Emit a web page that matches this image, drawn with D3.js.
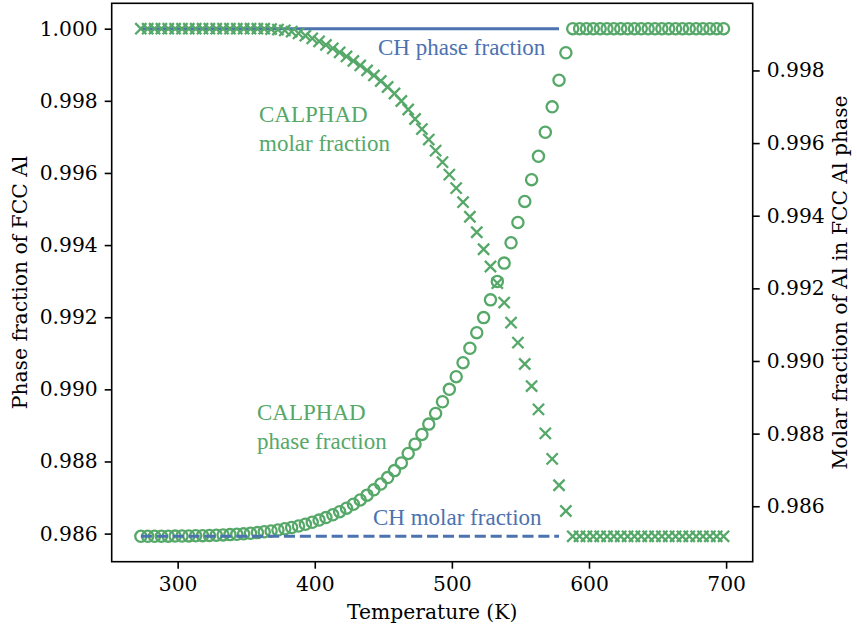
<!DOCTYPE html>
<html>
<head>
<meta charset="utf-8">
<script src="https://cdn.jsdelivr.net/npm/d3@7"></script>
<style>
  html, body { margin: 0; padding: 0; background: #ffffff; }
  svg { display: block; }
</style>
</head>
<body>
<svg id="chart" width="857" height="630"></svg>
<script>
// Temperatures (K) of the CALPHAD equilibrium steps
const temperature = [
  273.15, 278.15, 283.15, 288.15, 293.15, 298.15, 303.15, 308.15, 313.15, 318.15,
  323.15, 328.15, 333.15, 338.15, 343.15, 348.15, 353.15, 358.15, 363.15, 368.15,
  373.15, 378.15, 383.15, 388.15, 393.15, 398.15, 403.15, 408.15, 413.15, 418.15,
  423.15, 428.15, 433.15, 438.15, 443.15, 448.15, 453.15, 458.15, 463.15, 468.15,
  473.15, 478.15, 483.15, 488.15, 493.15, 498.15, 503.15, 508.15, 513.15, 518.15,
  523.15, 528.15, 533.15, 538.15, 543.15, 548.15, 553.15, 558.15, 563.15, 568.15,
  573.15, 578.15, 583.15, 588.15, 593.15, 598.15, 603.15, 608.15, 613.15, 618.15,
  623.15, 628.15, 633.15, 638.15, 643.15, 648.15, 653.15, 658.15, 663.15, 668.15,
  673.15, 678.15, 683.15, 688.15, 693.15, 698.15
];

// CALPHAD phase fraction of FCC Al (left axis)
const calphadPhaseFraction = [
  0.985925, 0.985926, 0.985927, 0.985928, 0.985930, 0.985931, 0.985933, 0.985936, 0.985939, 0.985944,
  0.985950, 0.985956, 0.985964, 0.985972, 0.985981, 0.985994, 0.986011, 0.986028, 0.986050, 0.986075,
  0.986100, 0.986133, 0.986169, 0.986211, 0.986258, 0.986314, 0.986375, 0.986444, 0.986522, 0.986608,
  0.986706, 0.986814, 0.986933, 0.987067, 0.987214, 0.987375, 0.987553, 0.987747, 0.987961, 0.988222,
  0.988481, 0.988750, 0.989036, 0.989333, 0.989656, 0.990000, 0.990350, 0.990739, 0.991139, 0.991572,
  0.991989, 0.992481, 0.992989, 0.993500, 0.994064, 0.994628, 0.995211, 0.995814, 0.996461, 0.997128,
  0.997833, 0.998572, 0.999333, 1.000000, 1.000000, 1.000000, 1.000000, 1.000000, 1.000000, 1.000000,
  1.000000, 1.000000, 1.000000, 1.000000, 1.000000, 1.000000, 1.000000, 1.000000, 1.000000, 1.000000,
  1.000000, 1.000000, 1.000000, 1.000000, 1.000000, 1.000000
];

// CALPHAD molar fraction of Al in the FCC Al phase (right axis)
const calphadMolarFraction = [
  0.999150, 0.999150, 0.999150, 0.999150, 0.999150, 0.999150, 0.999150, 0.999150, 0.999150, 0.999150,
  0.999150, 0.999150, 0.999150, 0.999150, 0.999150, 0.999150, 0.999150, 0.999150, 0.999150, 0.999139,
  0.999126, 0.999103, 0.999068, 0.999021, 0.998957, 0.998883, 0.998800, 0.998703, 0.998607, 0.998497,
  0.998386, 0.998262, 0.998138, 0.998000, 0.997862, 0.997710, 0.997545, 0.997366, 0.997159, 0.996924,
  0.996662, 0.996386, 0.996097, 0.995793, 0.995476, 0.995131, 0.994759, 0.994372, 0.993972, 0.993545,
  0.993076, 0.992601, 0.992143, 0.991608, 0.991057, 0.990505, 0.989917, 0.989310, 0.988668, 0.988006,
  0.987305, 0.986579, 0.985870, 0.985172, 0.985172, 0.985172, 0.985172, 0.985172, 0.985172, 0.985172,
  0.985172, 0.985172, 0.985172, 0.985172, 0.985172, 0.985172, 0.985172, 0.985172, 0.985172, 0.985172,
  0.985172, 0.985172, 0.985172, 0.985172, 0.985172, 0.985172
];

// Cahn-Hilliard (CH) simulation results
const chTemperature = [273.15, 578.15];
const chPhaseFraction = [1.0, 1.0];
const chMolarFraction = [0.985172, 0.985172];

// Tick labels
const xTicks = [300, 400, 500, 600, 700];
const leftTicks = [0.986, 0.988, 0.990, 0.992, 0.994, 0.996, 0.998, 1.000];
const rightTicks = [0.986, 0.988, 0.990, 0.992, 0.994, 0.996, 0.998];

const BLUE = "#4c72b0";
const GREEN = "#55a868";
const AXIS_FONT = "'DejaVu Serif', serif";
const NOTE_FONT = "'Liberation Serif', 'Times New Roman', serif";

const box = { left: 111.7, right: 752.7, top: 3.3, bottom: 561.7 };

// data extent widened by 5% on both sides
function padded(values) {
  const [lo, hi] = d3.extent(values);
  const pad = (hi - lo) * 0.05;
  return [lo - pad, hi + pad];
}

const x = d3.scaleLinear().domain(padded(temperature)).range([box.left, box.right]);
const yLeft = d3.scaleLinear()
  .domain(padded(calphadPhaseFraction.concat(chPhaseFraction)))
  .range([box.bottom, box.top]);
const yRight = d3.scaleLinear()
  .domain(padded(calphadMolarFraction.concat(chMolarFraction)))
  .range([box.bottom, box.top]);

const svg = d3.select("#chart");
svg.append("rect").attr("width", 857).attr("height", 630).attr("fill", "#ffffff");

function styleAxis(g) {
  g.select(".domain").remove();
  g.selectAll(".tick line").attr("stroke", "#000").attr("stroke-width", 1.6);
  g.selectAll(".tick text")
    .attr("fill", "#000")
    .style("font-family", AXIS_FONT)
    .style("font-size", "20.3px");
}

// axes
svg.append("g")
  .attr("transform", `translate(0,${box.bottom})`)
  .call(d3.axisBottom(x).tickValues(xTicks).tickSize(7).tickPadding(8).tickFormat(d3.format("d")))
  .call(styleAxis);

svg.append("g")
  .attr("transform", `translate(${box.left},0)`)
  .call(d3.axisLeft(yLeft).tickValues(leftTicks).tickSize(7).tickPadding(7).tickFormat(d3.format(".3f")))
  .call(styleAxis);

svg.append("g")
  .attr("transform", `translate(${box.right},0)`)
  .call(d3.axisRight(yRight).tickValues(rightTicks).tickSize(7).tickPadding(7).tickFormat(d3.format(".3f")))
  .call(styleAxis);

// left-axis series: CALPHAD phase fraction (open circles) and CH phase fraction (solid line)
const phasePts = temperature.map((t, i) => [t, calphadPhaseFraction[i]]);
svg.append("g")
  .selectAll("circle")
  .data(phasePts)
  .join("circle")
  .attr("cx", d => x(d[0]))
  .attr("cy", d => yLeft(d[1]))
  .attr("r", 5.6)
  .attr("fill", "none")
  .attr("stroke", GREEN)
  .attr("stroke-width", 2.3);

svg.append("path")
  .datum(chTemperature.map((t, i) => [t, chPhaseFraction[i]]))
  .attr("fill", "none")
  .attr("stroke", BLUE)
  .attr("stroke-width", 3)
  .attr("d", d3.line().x(d => x(d[0])).y(d => yLeft(d[1])));

// right-axis series: CALPHAD molar fraction (crosses) and CH molar fraction (dashed line)
const molarPts = temperature.map((t, i) => [t, calphadMolarFraction[i]]);
const h = 5.6;
svg.append("g")
  .selectAll("path")
  .data(molarPts)
  .join("path")
  .attr("transform", d => `translate(${x(d[0])},${yRight(d[1])})`)
  .attr("d", `M${-h},${-h}L${h},${h}M${-h},${h}L${h},${-h}`)
  .attr("fill", "none")
  .attr("stroke", GREEN)
  .attr("stroke-width", 2.3);

svg.append("path")
  .datum(chTemperature.map((t, i) => [t, chMolarFraction[i]]))
  .attr("fill", "none")
  .attr("stroke", BLUE)
  .attr("stroke-width", 3)
  .attr("stroke-dasharray", "11.1,4.8")
  .attr("d", d3.line().x(d => x(d[0])).y(d => yRight(d[1])));

// frame
svg.append("rect")
  .attr("x", box.left).attr("y", box.top)
  .attr("width", box.right - box.left).attr("height", box.bottom - box.top)
  .attr("fill", "none").attr("stroke", "#000").attr("stroke-width", 1.6);

// axis titles
svg.append("text")
  .attr("x", (box.left + box.right) / 2).attr("y", 619)
  .attr("text-anchor", "middle")
  .style("font-family", AXIS_FONT).style("font-size", "20.3px")
  .text("Temperature (K)");

svg.append("text")
  .attr("transform", `translate(27,${(box.top + box.bottom) / 2}) rotate(-90)`)
  .attr("text-anchor", "middle")
  .style("font-family", AXIS_FONT).style("font-size", "20.3px")
  .text("Phase fraction of FCC Al");

svg.append("text")
  .attr("transform", `translate(847,${(box.top + box.bottom) / 2}) rotate(-90)`)
  .attr("text-anchor", "middle")
  .style("font-family", AXIS_FONT).style("font-size", "20.3px")
  .text("Molar fraction of Al in FCC Al phase");

// in-plot annotations
const notes = [
  { lines: ["CH phase fraction"], x: 378, y: 55, color: BLUE },
  { lines: ["CALPHAD", "molar fraction"], x: 259, y: 121.5, color: GREEN },
  { lines: ["CALPHAD", "phase fraction"], x: 257, y: 419.5, color: GREEN },
  { lines: ["CH molar fraction"], x: 373, y: 525, color: BLUE }
];
notes.forEach(n => {
  const t = svg.append("text")
    .attr("x", n.x).attr("y", n.y)
    .attr("fill", n.color)
    .style("font-family", NOTE_FONT).style("font-size", "23px");
  n.lines.forEach((line, i) => {
    t.append("tspan").attr("x", n.x).attr("dy", i === 0 ? 0 : 29.5).text(line);
  });
});
</script>
</body>
</html>
